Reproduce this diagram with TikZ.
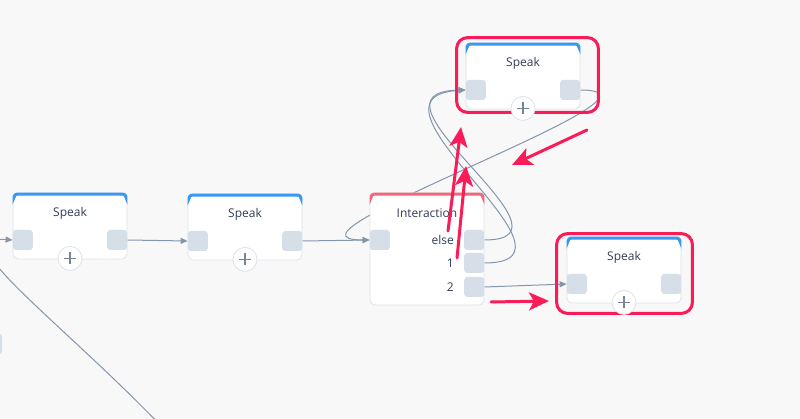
\documentclass[tikz,border=0pt]{standalone}
\usepackage{fontspec}
\setmainfont{Open Sans}
\usetikzlibrary{arrows.meta,backgrounds}
\definecolor{canvas}{RGB}{248,248,249}
\definecolor{wire}{RGB}{132,150,171}
\definecolor{portgray}{RGB}{214,222,232}
\definecolor{edgegray}{RGB}{222,226,232}
\definecolor{barblue}{RGB}{58,152,245}
\definecolor{barred}{RGB}{242,104,122}
\definecolor{inktext}{RGB}{48,60,86}
\definecolor{hilite}{RGB}{250,28,88}
\definecolor{pluscol}{RGB}{118,134,152}
\tikzset{
  card/.style={draw=edgegray, line width=0.8pt, fill=white, rounded corners=5pt,
    minimum width=114pt, minimum height=66pt, inner sep=0pt},
  cardbar/.style={line width=3pt, rounded corners=3pt},
  port/.style={fill=portgray, rounded corners=3pt, minimum size=20pt, inner sep=0pt},
  title/.style={text=inktext, font=\fontsize{12}{14}\selectfont, inner sep=0pt},
  addbtn/.style={circle, fill=white, draw=edgegray, line width=0.8pt, minimum size=24pt, inner sep=0pt,
    path picture={\draw[pluscol, line width=1.2pt]
      ([xshift=-6pt]path picture bounding box.center) -- ([xshift=6pt]path picture bounding box.center)
      ([yshift=-6pt]path picture bounding box.center) -- ([yshift=6pt]path picture bounding box.center);}},
  link/.style={draw=wire, line width=1pt, -{Triangle[length=7pt,width=6pt]}},
  redarrow/.style={draw=hilite, line width=3pt, line cap=round, -{Stealth[length=20pt,width=18pt,inset=5pt]}},
  redframe/.style={draw=hilite, line width=3pt, rounded corners=11pt}
}
\begin{document}
\begin{tikzpicture}[x=1pt,y=-1pt]
  \useasboundingbox (0,0) rectangle (800,419);
  \clip (0,0) rectangle (800,419);
  % cards
  \node[card] (s1) at (70,226) {};
  \node[card] (s2) at (245,227) {};
  \node[card, minimum height=112pt] (int) at (427,249) {};
  \node[card] (ts) at (523,76) {};
  \node[card] (bs) at (624,270) {};
  \foreach \card/\col in {s1/barblue,s2/barblue,int/barred,ts/barblue,bs/barblue}
    \draw[cardbar, \col] ([shift={(1.5pt,-3.2pt)}]\card.north west) -- ([shift={(1.5pt,-1.5pt)}]\card.north west)
      -- ([shift={(-1.5pt,-1.5pt)}]\card.north east) -- ([shift={(-1.5pt,-3.2pt)}]\card.north east);
  \foreach \card in {s1,s2,ts,bs} {
    \node[port, anchor=west] (\card in) at ([yshift=-14pt]\card.west) {};
    \node[port, anchor=east] (\card out) at ([yshift=-14pt]\card.east) {};
    \node[title] (\card t) at ([yshift=-21pt]\card.north) {Speak};
  }
  % interaction
  \node[title] (intt) at ([yshift=-21pt]int.north) {Interaction};
  \node[port, anchor=west] (intin) at ([yshift=9pt]int.west) {};
  \foreach \k/\dy/\txt in {1/9/else,2/-14/1,3/-38/2} {
    \node[port, anchor=east] (io\k) at ([yshift=\dy pt]int.east) {};
    \node[title, anchor=east] (lab\k) at ([xshift=-10pt]io\k.west) {\txt};
  }
  \node[port] (offport) at (-8,344) {};
  % highlights
  \draw[redframe] ([shift={(-9pt,5pt)}]ts.north west) rectangle ([shift={(18pt,-3pt)}]ts.south east);
  \draw[redframe] ([shift={(-10pt,3pt)}]bs.north west) rectangle ([shift={(11pt,-10pt)}]bs.south east);
  \foreach \card in {s1,s2,ts,bs}
    \node[addbtn] (\card add) at ([yshift=1pt]\card.south) {};
  % wires
  \begin{pgfonlayer}{background}
    \clip (0,0) rectangle (800,419);
    \fill[canvas] (0,0) rectangle (800,419);
    \coordinate (offsrc) at (165,430);
    \draw[link] (offsrc) .. controls (60,320) and (-60,235) .. (s1in.west);
    \draw[link] (s1out.east) -- (s2in.west);
    \draw[link] (s2out.east) -- (intin.west);
    \draw[link] (tsout.east) .. controls +(115,0) and +(-115,0) .. (intin.west);
    \draw[link] (io1.east) .. controls +(106,0) and +(-116,2) .. (tsin.west);
    \draw[link] (io2.east) .. controls +(116,0) and +(-121,7) .. (tsin.west);
    \draw[link] (io3.east) -- (bsin.west);
  \end{pgfonlayer}
  % pointers
  \coordinate (p1a) at (448,231); \coordinate (p1b) at (461,127);
  \coordinate (p2a) at (457,258); \coordinate (p2b) at (466,166);
  \coordinate (p3a) at (587,130); \coordinate (p3b) at (512,165);
  \coordinate (p4a) at (491,302); \coordinate (p4b) at (549,301);
  \foreach \i in {1,2,3,4}
    \draw[redarrow] (p\i a) -- (p\i b);
\end{tikzpicture}
\end{document}
